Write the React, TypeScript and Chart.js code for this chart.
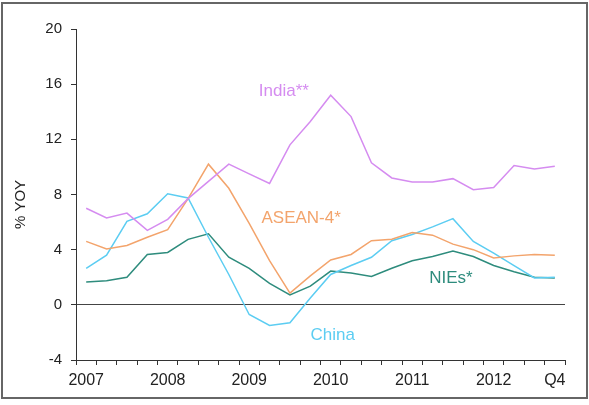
import React, { useEffect, useRef } from "react";
import { Chart, registerables } from "chart.js";

Chart.register(...registerables);

const quarters = [
  "2007Q1", "2007Q2", "2007Q3", "2007Q4",
  "2008Q1", "2008Q2", "2008Q3", "2008Q4",
  "2009Q1", "2009Q2", "2009Q3", "2009Q4",
  "2010Q1", "2010Q2", "2010Q3", "2010Q4",
  "2011Q1", "2011Q2", "2011Q3", "2011Q4",
  "2012Q1", "2012Q2", "2012Q3", "2012Q4",
];
const xTickLabels = [
  "2007", "", "", "", "2008", "", "", "", "2009", "", "", "", "2010", "", "", "",
  "2011", "", "", "", "2012", "", "", "Q4",
];

const india = [7.0, 6.3, 6.65, 5.4, 6.2, 7.7, 8.95, 10.2, 9.5, 8.8, 11.6, 13.3, 15.2, 13.65, 10.3, 9.2, 8.9, 8.9, 9.15, 8.35, 8.5, 10.1, 9.85, 10.05];
const china = [2.65, 3.6, 6.05, 6.6, 8.05, 7.75, 4.9, 2.2, -0.7, -1.5, -1.3, 0.5, 2.2, 2.85, 3.45, 4.65, 5.1, 5.65, 6.25, 4.6, 3.75, 2.85, 1.95, 2.0];
const asean = [4.6, 4.05, 4.3, 4.9, 5.45, 7.7, 10.2, 8.45, 5.9, 3.2, 0.85, 2.1, 3.25, 3.65, 4.65, 4.75, 5.25, 5.05, 4.4, 4.0, 3.4, 3.55, 3.65, 3.6];
const nies = [1.65, 1.75, 2.0, 3.65, 3.8, 4.75, 5.15, 3.45, 2.65, 1.55, 0.72, 1.35, 2.45, 2.3, 2.05, 2.65, 3.2, 3.5, 3.9, 3.5, 2.85, 2.4, 2.0, 1.95];

const seriesNames = ["India**", "ASEAN-4*", "NIEs*", "China"];
const seriesColors = ["#d58cf0", "#f3a46c", "#2e8c7d", "#5ccdf2"];
// label anchor positions in data coordinates: [category index, value]
const labelAnchors: [number, number][] = [
  [9.7, 15.45],
  [10.55, 6.25],
  [17.9, 1.95],
  [12.1, -2.2],
];

const FONT = "'Liberation Sans', Arial, Helvetica, sans-serif";

export default function App() {
  const ref = useRef<HTMLCanvasElement | null>(null);

  useEffect(() => {
    if (!ref.current) return;

    const decor = {
      id: "decor",
      afterDatasetsDraw(chart: any) {
        const { ctx, scales, chartArea } = chart;
        const x = scales.x;
        const y = scales.y;
        ctx.save();
        ctx.font = `17px ${FONT}`;
        ctx.textAlign = "center";
        ctx.textBaseline = "middle";
        seriesNames.forEach((name, i) => {
          const [xi, v] = labelAnchors[i];
          ctx.fillStyle = seriesColors[i];
          ctx.fillText(name, x.getPixelForValue(xi), y.getPixelForValue(v));
        });
        // y-axis title
        ctx.translate(21, (chartArea.top + chartArea.bottom) / 2 + 10);
        ctx.rotate(-Math.PI / 2);
        ctx.fillStyle = "#222";
        ctx.font = `15px ${FONT}`;
        ctx.fillText("% YOY", 0, 0);
        ctx.restore();
      },
      afterDraw(chart: any) {
        const { ctx, width, height } = chart;
        ctx.save();
        ctx.strokeStyle = "#666";
        ctx.lineWidth = 2;
        ctx.strokeRect(2, 3, width - 4, height - 10);
        ctx.restore();
      },
    };

    const mk = (label: string, data: number[], color: string) => ({
      label,
      data,
      borderColor: color,
      backgroundColor: color,
      borderWidth: 1.5,
      pointRadius: 0,
      tension: 0,
      fill: false,
    });

    const chart = new Chart(ref.current, {
      type: "line",
      data: {
        labels: quarters,
        datasets: [
          mk(seriesNames[0], india, seriesColors[0]),
          mk(seriesNames[1], asean, seriesColors[1]),
          mk(seriesNames[3], china, seriesColors[3]),
          mk(seriesNames[2], nies, seriesColors[2]),
        ],
      },
      options: {
        animation: false,
        responsive: false,
        events: [],
        layout: { padding: { left: 0, top: 29, right: 24, bottom: 0 } },
        plugins: {
          legend: { display: false },
          tooltip: { enabled: false },
          title: { display: false },
        },
        scales: {
          x: {
            type: "category",
            offset: true,
            grid: {
              offset: true,
              drawOnChartArea: false,
              drawTicks: true,
              tickLength: 5,
              tickColor: "#333",
              tickWidth: 1,
            },
            border: { display: true, color: "#333", width: 1 },
            ticks: {
              autoSkip: false,
              maxRotation: 0,
              minRotation: 0,
              padding: 6,
              color: "#222",
              font: { family: FONT, size: 16 },
              callback: (_v: any, i: number) => xTickLabels[i],
            },
            afterFit: (s: any) => {
              s.height = 45;
            },
          },
          y: {
            min: -4,
            max: 20,
            ticks: {
              stepSize: 4,
              padding: 9,
              color: "#222",
              font: { family: FONT, size: 15 },
            },
            grid: {
              drawOnChartArea: true,
              color: (c: any) => (c.tick && c.tick.value === 0 ? "#444" : "rgba(0,0,0,0)"),
              lineWidth: 1,
              tickLength: 5,
              tickColor: "#333",
            },
            border: { display: true, color: "#333", width: 1 },
            afterFit: (s: any) => {
              s.width = 76;
            },
          },
        },
      },
      plugins: [decor],
    });

    return () => chart.destroy();
  }, []);

  return (
    <div style={{ position: "fixed", left: 0, top: 0, width: 589, height: 405, background: "#fff" }}>
      <canvas ref={ref} width={589} height={405} style={{ display: "block" }} />
    </div>
  );
}
